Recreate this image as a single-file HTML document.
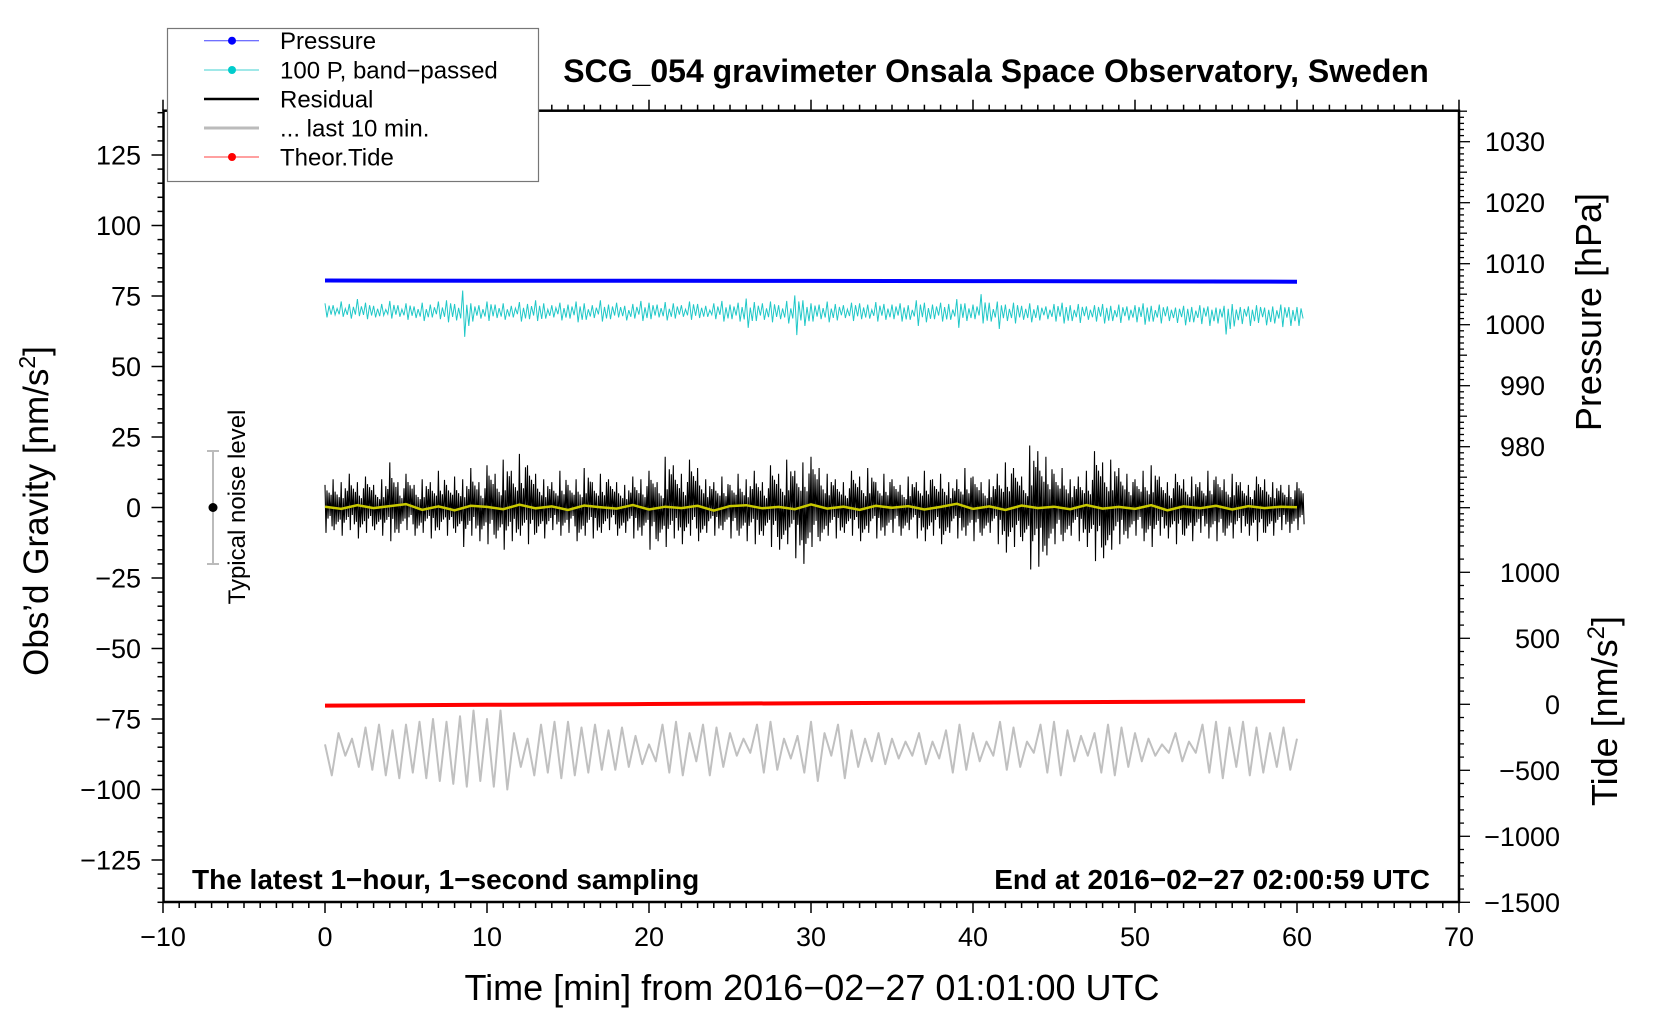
<!DOCTYPE html>
<html><head><meta charset="utf-8"><style>
html,body{margin:0;padding:0;background:#fff;}
svg{display:block;font-family:"Liberation Sans",sans-serif;}
</style></head><body>
<svg id="chart" width="1660" height="1020" viewBox="0 0 1660 1020" xmlns="http://www.w3.org/2000/svg">
<rect x="0" y="0" width="1660" height="1020" fill="#fff"/>
<g id="ticks"></g>
<g id="series"></g>
<rect x="163.5" y="110.7" width="1295.5" height="791.3" fill="none" stroke="#000" stroke-width="2.5"/>
<text x="996" y="82" font-size="32" font-weight="bold" text-anchor="middle">SCG_054 gravimeter Onsala Space Observatory, Sweden</text>
<text x="812" y="1000" font-size="36" text-anchor="middle">Time [min] from 2016−02−27 01:01:00 UTC</text>
<text transform="translate(48,511) rotate(-90)" font-size="35" text-anchor="middle">Obs’d Gravity [nm/s<tspan font-size="23" dy="-13">2</tspan><tspan dy="13">]</tspan></text>
<text transform="translate(1601,312) rotate(-90)" font-size="36" text-anchor="middle">Pressure [hPa]</text>
<text transform="translate(1617,711) rotate(-90)" font-size="36" text-anchor="middle">Tide [nm/s<tspan font-size="24" dy="-13">2</tspan><tspan dy="13">]</tspan></text>
<text x="192" y="898" font-size="28" font-weight="bold" transform="translate(0,-9)">The latest 1−hour, 1−second sampling</text>
<text x="1430" y="889" font-size="28" font-weight="bold" text-anchor="end">End at 2016−02−27 02:00:59 UTC</text>
<g>
<line x1="213" y1="451" x2="213" y2="564" stroke="#bbb" stroke-width="2"/>
<line x1="207" y1="451" x2="219" y2="451" stroke="#bbb" stroke-width="2"/>
<line x1="207" y1="564" x2="219" y2="564" stroke="#bbb" stroke-width="2"/>
<circle cx="213" cy="507.5" r="4.5" fill="#000"/>
<text transform="translate(245,507) rotate(-90)" font-size="24" text-anchor="middle">Typical noise level</text>
</g>
<g>
<rect x="167.5" y="28.5" width="371" height="153" fill="#fff" stroke="#777" stroke-width="1.2"/>
<g><line x1="204" y1="40.7" x2="259" y2="40.7" stroke="#4040ff" stroke-width="1"/><circle cx="232" cy="40.7" r="4" fill="#0000ff"/><text x="280" y="49" font-size="24">Pressure</text></g>
<g><line x1="204" y1="70" x2="259" y2="70" stroke="#40d0d0" stroke-width="1"/><circle cx="232" cy="70" r="4" fill="#00cccc"/><text x="280" y="78.5" font-size="24">100 P, band−passed</text></g>
<g><line x1="204" y1="99" x2="259" y2="99" stroke="#000" stroke-width="2.5"/><text x="280" y="107.5" font-size="24">Residual</text></g>
<g><line x1="204" y1="128" x2="259" y2="128" stroke="#bbb" stroke-width="3"/><text x="280" y="136.5" font-size="24">... last 10 min.</text></g>
<g><line x1="204" y1="157" x2="259" y2="157" stroke="#ff4040" stroke-width="1"/><circle cx="232" cy="157" r="4" fill="#ff0000"/><text x="280" y="165.5" font-size="24">Theor.Tide</text></g>
</g>
</svg>
<script>
// ---- data ----
const xTicks = [-10,0,10,20,30,40,50,60,70];
const gravTicks = [-125,-100,-75,-50,-25,0,25,50,75,100,125];
const presTicks = [980,990,1000,1010,1020,1030];
const tideTicks = [-1500,-1000,-500,0,500,1000];
const pressureTimes = [0,10,20,30,40,50,60];
const pressureVals = [1007.25,1007.22,1007.2,1007.18,1007.15,1007.1,1007.05];
const tideTimes = [0,10,20,30,40,50,60.5];
const tideVals = [-10,-4,2,8,13,18,24];
const resMax = [8,10,9,12,9,11,8,10,16,9,12,8,10,9,13,8,11,10,14,9,15,12,17,13,19,15,12,10,9,13,8,10,14,9,12,10,9,8,11,10,13,9,18,15,12,17,14,10,9,11,8,12,10,13,9,15,12,17,13,16,18,14,12,10,9,13,11,14,9,12,10,8,11,9,13,10,12,9,10,14,11,9,10,12,16,14,11,22,20,18,12,14,10,11,13,20,16,17,14,12,10,13,15,11,9,12,10,11,9,13,11,10,12,9,8,11,10,9,8,8,9];
const resMin = [-9,-8,-10,-8,-11,-9,-8,-10,-12,-9,-8,-10,-9,-11,-8,-10,-9,-14,-10,-12,-13,-11,-15,-12,-10,-13,-9,-11,-8,-10,-9,-12,-10,-11,-9,-8,-10,-9,-11,-10,-15,-12,-14,-11,-13,-10,-12,-9,-10,-8,-11,-10,-12,-13,-10,-14,-15,-13,-18,-20,-14,-12,-10,-11,-9,-10,-12,-9,-11,-10,-9,-10,-8,-11,-12,-10,-13,-9,-11,-10,-12,-10,-9,-13,-16,-14,-12,-22,-21,-17,-13,-12,-10,-12,-14,-19,-18,-15,-13,-11,-10,-12,-14,-10,-11,-13,-10,-12,-9,-11,-12,-10,-11,-9,-10,-12,-9,-10,-8,-9,-8];
const cyanHi = [1003.5,1003.2,1003.8,1003.4,1004.2,1003.6,1003.1,1003.4,1003.9,1003.2,1003.5,1003.0,1003.6,1003.3,1003.8,1004.0,1003.4,1005.6,1003.5,1003.2,1003.8,1003.3,1003.5,1003.1,1003.7,1003.4,1004.0,1003.5,1003.2,1003.6,1003.3,1003.8,1003.5,1003.2,1004.0,1003.3,1003.6,1003.1,1003.4,1003.9,1003.6,1003.3,1003.7,1003.5,1003.2,1003.8,1003.4,1003.1,1003.5,1003.9,1003.3,1003.6,1004.3,1003.7,1003.5,1003.8,1003.2,1003.9,1004.8,1004.0,1003.5,1003.3,1003.8,1003.4,1003.2,1003.6,1003.5,1003.3,1003.7,1003.4,1003.3,1003.5,1003.2,1004.0,1003.6,1003.3,1003.6,1003.4,1004.2,1003.5,1003.3,1005.0,1003.6,1003.8,1003.3,1003.6,1003.1,1003.5,1003.2,1003.0,1003.4,1003.6,1003.2,1003.4,1003.0,1003.2,1003.4,1003.1,1003.3,1003.0,1003.2,1003.5,1003.1,1003.3,1003.0,1002.8,1003.1,1002.9,1003.2,1003.0,1002.8,1003.1,1003.4,1002.9,1003.0,1003.2,1002.8,1003.0,1003.3,1002.9,1002.9];
const cyanLo = [1001.2,1001.6,1001.3,1001.0,1001.4,1000.9,1001.2,1001.5,1001.0,1001.3,1000.8,1001.1,1000.6,1001.2,1000.9,1000.4,1000.7,998.0,1000.5,1001.0,1000.6,1001.1,1000.8,1001.2,1000.5,1000.9,1000.6,1001.0,1001.2,1000.7,1001.0,1000.4,1000.8,1001.1,1000.5,1000.9,1001.2,1000.7,1001.0,1000.6,1000.9,1001.2,1000.7,1001.0,1001.3,1000.8,1001.1,1001.3,1000.9,1000.5,1000.9,1000.5,999.5,1000.6,1000.8,1000.4,1000.9,1000.2,998.3,999.8,1000.5,1000.9,1000.4,1000.7,1001.1,1000.6,1000.9,1001.0,1000.5,1000.8,1000.9,1000.5,1000.8,999.8,1000.4,1000.9,1000.5,1000.8,999.5,1000.6,1000.9,1000.2,1000.5,999.3,1000.6,1000.2,1000.8,1000.4,1000.7,1000.9,1000.5,1000.2,1000.6,1000.3,1000.8,1000.5,1000.2,1000.6,1000.3,1000.7,1000.4,1000.0,1000.5,1000.2,1000.6,1000.3,999.9,1000.4,1000.1,999.8,1000.2,998.4,999.7,1000.1,999.8,1000.3,999.9,1000.2,999.6,999.8,999.8];
const yellowVals = [0.3,-0.5,0.8,-0.2,0.5,1.2,-0.8,0.4,-1.0,0.6,0.2,-0.6,1.0,-0.3,0.4,-0.9,0.7,0.1,-0.4,0.9,-0.7,0.3,-0.2,0.6,-1.1,0.5,0.8,-0.3,0.2,-0.6,1.1,-0.4,0.3,-0.8,0.6,-0.1,0.5,-0.7,0.2,1.3,-0.5,0.4,-0.9,0.7,-0.2,0.3,-0.6,0.9,-0.4,0.2,-0.5,0.8,-1.0,0.4,-0.3,0.6,-0.7,0.5,-0.2,0.3,0.1];
const grayVals = [-84,-95,-80,-88,-82,-92,-78,-93,-77,-95,-79,-96,-77,-94,-76,-96,-75,-97,-76,-98,-74,-99,-72,-97,-75,-99,-72,-100,-80,-92,-82,-95,-77,-94,-76,-96,-76,-95,-78,-94,-77,-93,-79,-93,-78,-92,-81,-91,-84,-90,-77,-94,-76,-95,-80,-90,-77,-95,-78,-92,-80,-88,-82,-87,-77,-94,-76,-93,-82,-89,-81,-94,-76,-97,-80,-88,-77,-96,-79,-92,-82,-90,-80,-91,-82,-89,-83,-88,-80,-91,-83,-89,-79,-94,-77,-93,-80,-90,-83,-88,-76,-93,-78,-92,-83,-87,-77,-94,-76,-95,-79,-90,-81,-88,-80,-94,-77,-95,-78,-92,-80,-90,-82,-88,-84,-87,-80,-90,-83,-87,-77,-94,-76,-96,-78,-92,-76,-95,-78,-94,-80,-92,-78,-93,-82];

// ---- scales ----
const X = t => 325 + t * 16.2;
const YG = g => 507.5 - g * 2.82;
const YP = p => 141.7 + (1030 - p) * 6.1;
const YT = v => 704.3 - v * 0.132;
const NS = 'http://www.w3.org/2000/svg';
function mk(tag, attrs, parent) {
  const e = document.createElementNS(NS, tag);
  for (const k in attrs) e.setAttribute(k, attrs[k]);
  parent.appendChild(e);
  return e;
}
const tg = document.getElementById('ticks');
const sg = document.getElementById('series');

for (let t = -10; t <= 70; t++) {
  const major = t % 10 === 0;
  const x = X(t);
  const l1 = mk('line', {x1: x, x2: x, y1: 902, y2: 902 + (major ? 11 : 6), stroke: '#000', 'stroke-width': 1.5}, tg);
  
  
  const l2 = mk('line', {x1: x, x2: x, y1: 110.7, y2: 110.7 - (major ? 11 : 6), stroke: '#000', 'stroke-width': 1.5}, tg);
  
  
}
xTicks.forEach(t => {
  const tx = mk('text', {x: X(t), y: 956, 'font-size': 27, 'text-anchor': 'middle', transform: 'translate(0,-10)'}, tg);
  tx.textContent = String(t).replace('-', '−');
  
  
});
for (let g = -140; g <= 140; g += 5) {
  const major = g % 25 === 0;
  const l = mk('line', {x1: 163.5 - (major ? 12 : 6), x2: 163.5, y1: YG(g), y2: YG(g), stroke: '#000', 'stroke-width': 1.5}, tg);
  
  
}
gravTicks.forEach(g => {
  const tx = mk('text', {x: 141, y: YG(g) + 9.5, 'font-size': 27, 'text-anchor': 'end'}, tg);
  tx.textContent = String(g).replace('-', '−');
  
  
});
for (let p = 1035; p >= 966; p--) {
  const len = p % 10 === 0 ? 11 : (p % 5 === 0 ? 8 : 5);
  const l = mk('line', {x1: 1459, x2: 1459 + len, y1: YP(p), y2: YP(p), stroke: '#000', 'stroke-width': 1.3}, tg);
  
  
}
presTicks.forEach(p => {
  const tx = mk('text', {x: 1545, y: YP(p) + 9.5, 'font-size': 27, 'text-anchor': 'end'}, tg);
  tx.textContent = p;
  
  
});
for (let v = -1500; v <= 1200; v += 100) {
  const major = v % 500 === 0;
  const l = mk('line', {x1: 1459, x2: 1459 + (major ? 11 : 5), y1: YT(v), y2: YT(v), stroke: '#000', 'stroke-width': 1.3}, tg);
  
  
}
tideTicks.forEach(v => {
  const tx = mk('text', {x: 1560, y: YT(v) + 9.5, 'font-size': 27, 'text-anchor': 'end'}, tg);
  tx.textContent = String(v).replace('-', '−');
  
  
});

// ---- series ----
function envPath(hi, lo, yf, sub) {
  // zig-zag between each bin's max and min, with 'sub' decaying intermediate swings for density
  const n = hi.length, pts = [], dt = 60 / (n - 1);
  const mid = (hi.reduce((a, b) => a + b, 0) + lo.reduce((a, b) => a + b, 0)) / (2 * n);
  for (let i = 0; i < n; i++) {
    const t = i * dt;
    const steps = sub * 2;
    for (let k = 0; k < steps; k++) {
      const f = k === 0 || k === 1 ? 1 : 0.35 + 0.5 * ((k * 7 + i * 3) % 5) / 5;
      const v = k % 2 === 0 ? mid + (hi[i] - mid) * f : mid + (lo[i] - mid) * f;
      pts.push(X(t + dt * k / steps).toFixed(1) + ',' + yf(v).toFixed(1));
    }
  }
  return pts.join(' ');
}
function seqPath(vals, yf, t0, t1) {
  const n = vals.length;
  return vals.map((v, i) => X(t0 + i * (t1 - t0) / (n - 1)).toFixed(1) + ',' + yf(v).toFixed(1)).join(' ');
}
function xyPath(ts, vs, yf) {
  return ts.map((t, i) => X(t).toFixed(1) + ',' + yf(vs[i]).toFixed(1)).join(' ');
}
const cyan = mk('polyline', {points: envPath(cyanHi, cyanLo, YP, 2), fill: 'none', stroke: '#20c8c8', 'stroke-width': 1}, sg);


const blue = mk('polyline', {points: xyPath(pressureTimes, pressureVals, YP), fill: 'none', stroke: '#0000ff', 'stroke-width': 4}, sg);


const res = mk('polyline', {points: envPath(resMax, resMin, YG, 4), fill: 'none', stroke: '#000', 'stroke-width': 1.1}, sg);


const yel = mk('polyline', {points: seqPath(yellowVals, YG, 0, 60), fill: 'none', stroke: '#c8c800', 'stroke-width': 2.5}, sg);


const tide = mk('polyline', {points: xyPath(tideTimes, tideVals, YT), fill: 'none', stroke: '#ff0000', 'stroke-width': 4}, sg);


const gray = mk('polyline', {points: seqPath(grayVals, YG, 0, 60), fill: 'none', stroke: '#c0c0c0', 'stroke-width': 2, 'stroke-linejoin': 'round'}, sg);


</script>
</body></html>
